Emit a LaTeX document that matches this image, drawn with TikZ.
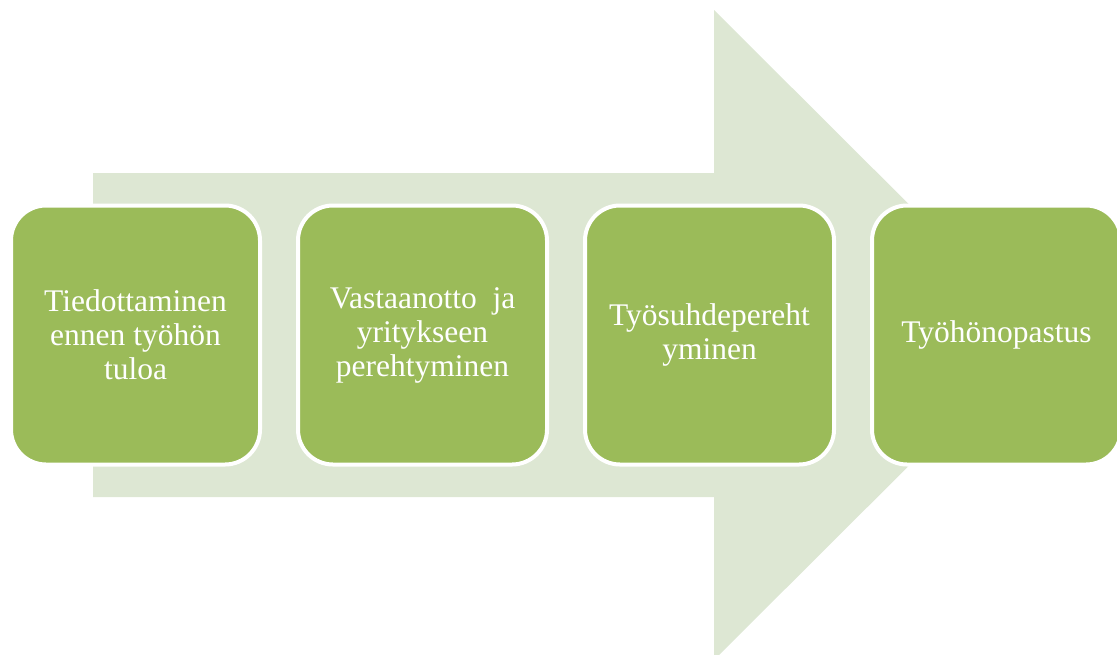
\documentclass[tikz,border=0pt]{standalone}
\usepackage{fontspec}
\setmainfont{Liberation Serif}
\usetikzlibrary{positioning}

\definecolor{arrowgreen}{RGB}{221,231,211}
\definecolor{boxgreen}{RGB}{155,187,89}

\tikzset{
    stepbox/.style={draw=white, line width=2pt, fill=boxgreen,
        rounded corners=17.5pt, minimum width=124.5pt, minimum height=129.5pt,
        inner sep=0pt, text=white, align=center,
        font=\fontsize{15.75}{17}\selectfont},
}

\begin{document}
\begin{tikzpicture}[x=0.5pt,y=-0.5pt]
    \clip (0,0) rectangle (1117,654);
    % big arrow behind the boxes
    \fill [arrowgreen] (93,173) --++ (621,0) --++ (0,-163) -- (1040,335) -- (714,660) --++ (0,-163) --++ (-621,0) -- cycle;
    \pgfmathtruncatemacro{\N}{4}
    \foreach \txt[
        count=\n,
        evaluate=\n as \cx using 135.5+287*(\n-1),
    ] in {{Tiedottaminen\\ennen työhön\\tuloa},
          {Vastaanotto\ \ ja\\yritykseen\\perehtyminen},
          {Työsuhdepereht\\yminen},
          {Työhönopastus}}{
            \node [stepbox] (step\n) at (\cx,335) {\txt};
        }
\end{tikzpicture}
\end{document}
